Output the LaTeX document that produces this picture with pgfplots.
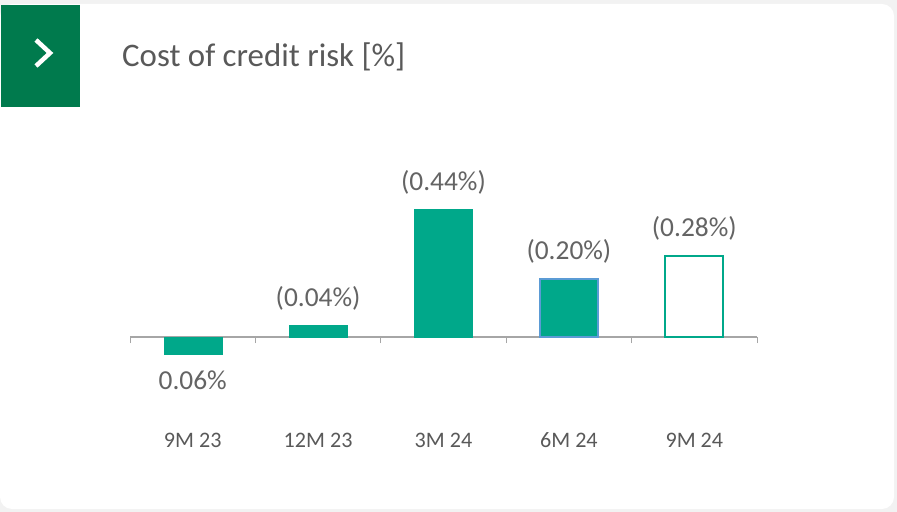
\documentclass[border=0pt]{standalone}
\usepackage{fontspec}
\setmainfont{Carlito}
\usepackage{pgfplots}
\pgfplotsset{compat=1.18}
\definecolor{bggray}{RGB}{242,242,242}
\definecolor{boxgreen}{RGB}{0,122,77}
\definecolor{barteal}{RGB}{0,168,138}
\definecolor{edgeblue}{RGB}{91,155,213}
\definecolor{axisgray}{RGB}{166,166,166}
\definecolor{txtgray}{RGB}{89,89,89}
\definecolor{valgray}{RGB}{100,100,100}

\begin{document}
\begin{tikzpicture}[x=1bp,y=1bp]
\useasboundingbox (0,0) rectangle (897,-512);
\fill[bggray] (0,0) rectangle (897,-512);
\fill[white, rounded corners=12bp] (0,-4) rectangle (894,-509);
% header box with chevron
\fill[boxgreen] (1,-5) rectangle (80,-107);
\draw[white, line width=4.5bp, line join=miter] (36,-40) -- (50,-53) -- (36,-66);
\node[anchor=base west, inner sep=0, text=txtgray, font=\fontsize{33}{36}\selectfont] at (122,-67) {Cost of credit risk [\%]};

\begin{axis}[
    at={(130bp,-395bp)}, anchor=south west,
    scale only axis, width=627bp, height=203bp,
    xmin=-0.5, xmax=4.5, ymin=-0.2, ymax=0.5,
    clip=false,
    axis x line=middle, axis y line=none,
    x axis line style={-, draw=axisgray, line width=1.3bp},
    xtick={-0.5,0.5,1.5,2.5,3.5,4.5}, xticklabels={},
    xtick align=outside, major tick length=6bp,
    tick style={draw=axisgray, line width=1bp},
    ytick=\empty,
    extra x ticks={0,1,2,3,4},
    extra x tick labels={9M 23,12M 23,3M 24,6M 24,9M 24},
    extra x tick style={major tick length=0pt,
        tick label style={anchor=north, text height=14bp, text depth=0pt, yshift=-96bp}},
    tick label style={font=\fontsize{22.2}{24}\selectfont, text=txtgray, inner sep=0pt},
    every node near coord/.append style={font=\fontsize{27.5}{30}\selectfont, text=valgray, inner sep=0pt},
]
% 9M 23 (negative)
\addplot[ybar, bar width=58bp, bar shift=0pt, fill=barteal, draw=barteal,
    point meta=explicit symbolic, nodes near coords,
    every node near coord/.append style={anchor=north, yshift=-16bp}]
    coordinates {(0,-0.06) [0.06\%]};
% 12M 23, 3M 24
\addplot[ybar, bar width=58bp, bar shift=0pt, fill=barteal, draw=barteal,
    point meta=explicit symbolic, nodes near coords,
    every node near coord/.append style={anchor=south, yshift=15bp}]
    coordinates {(1,0.04) [(0.04\%)] (2,0.44) [(0.44\%)]};
% 6M 24
\addplot[ybar, bar width=58bp, bar shift=0pt, fill=barteal, draw=edgeblue, line width=1.5bp,
    point meta=explicit symbolic, nodes near coords,
    every node near coord/.append style={anchor=south, yshift=15bp}]
    coordinates {(3,0.20) [(0.20\%)]};
% 9M 24
\addplot[ybar, bar width=58bp, bar shift=0pt, fill=white, draw=barteal, line width=2bp,
    point meta=explicit symbolic, nodes near coords,
    every node near coord/.append style={anchor=south, yshift=15bp}]
    coordinates {(4,0.28) [(0.28\%)]};
\end{axis}
\end{tikzpicture}
\end{document}
